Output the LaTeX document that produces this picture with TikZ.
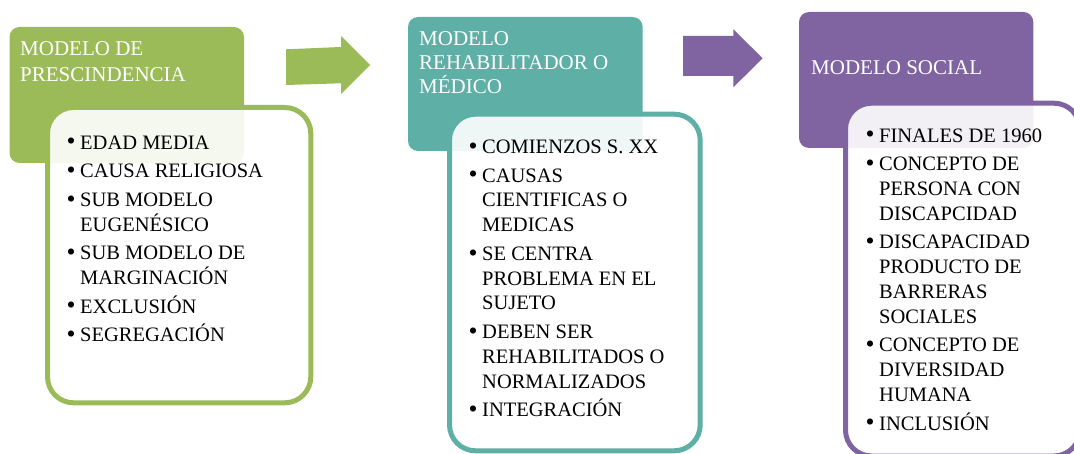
\documentclass[tikz,border=0pt]{standalone}
\usepackage{fontspec}
\usepackage{graphicx}
\setmainfont{Liberation Serif}
\definecolor{cgreen}{HTML}{9BBB59}
\definecolor{cteal}{HTML}{5EAFA6}
\definecolor{cpurple}{HTML}{8064A2}
\newcommand{\bul}{\makebox[12pt][l]{\hspace*{-1.5pt}\raisebox{-0.8pt}{\scalebox{1.25}{\textbullet}}}}
\newcommand{\cont}{\hspace*{12pt}}
\tikzset{
  head/.style={rounded corners=10pt, draw=none},
  bodybox/.style={rounded corners=26pt, line width=5pt, fill=white, fill opacity=0.9},
  headtext/.style={anchor=base west, inner sep=0pt, align=left, text=white,
    font=\fontsize{21}{26}\selectfont},
  bodytext/.style={anchor=base west, inner sep=0pt, align=left, text=black,
    font=\fontsize{20.5}{24.8}\selectfont},
  blockarrow/.style={draw=none}
}
\begin{document}
\begin{tikzpicture}[x=1pt,y=-1pt]
\useasboundingbox (0,0) rectangle (1074,454);
\clip (0,0) rectangle (1074,454);
% column 1
\fill[head, cgreen] (9.5,27) rectangle (244,163);
\draw[bodybox, draw=cgreen] (47.5,107.5) rectangle (310.8,402.8);
\node[headtext] (h1) at (20,82) {MODELO DE\\PRESCINDENCIA};
\node[bodytext] (b1) at (68,341.7) {\bul EDAD MEDIA\\[3.8pt]
\bul CAUSA RELIGIOSA\\[3.8pt]
\bul SUB MODELO\\
\cont EUGENÉSICO\\[3.8pt]
\bul SUB MODELO DE\\
\cont MARGINACIÓN\\[3.8pt]
\bul EXCLUSIÓN\\[3.8pt]
\bul SEGREGACIÓN};
% arrow 1
\fill[blockarrow, cgreen] (286,49.3) -- (341,47) -- (341,36) -- (370,65) -- (341,94) -- (341,83.3) -- (286,85) -- cycle;
% column 2
\fill[head, cteal] (408,17) rectangle (642.7,151);
\draw[bodybox, draw=cteal] (449.5,114.2) rectangle (700.2,450.8);
\node[headtext, font=\fontsize{21}{24}\selectfont] (h2) at (419,94) {MODELO\\REHABILITADOR O\\MÉDICO};
\node[bodytext] (b2) at (470,416.7) {\bul COMIENZOS S. XX\\[3.8pt]
\bul CAUSAS\\
\cont CIENTIFICAS O\\
\cont MEDICAS\\[3.8pt]
\bul SE CENTRA\\
\cont PROBLEMA EN EL\\
\cont SUJETO\\[3.8pt]
\bul DEBEN SER\\
\cont REHABILITADOS O\\
\cont NORMALIZADOS\\[3.8pt]
\bul INTEGRACIÓN};
% arrow 2
\fill[blockarrow, cpurple] (683,36) -- (733.3,36) -- (733.3,29.3) -- (762.7,58.3) -- (733.3,87.3) -- (733.3,76) -- (683,76) -- cycle;
% column 3
\fill[head, cpurple] (799,12) rectangle (1033.3,148);
\draw[bodybox, draw=cpurple] (845.5,103.2) rectangle (1080,456);
\node[headtext] (h3) at (811,75) {MODELO SOCIAL};
\node[bodytext] (b3) at (867,430) {\bul FINALES DE 1960\\[3.8pt]
\bul CONCEPTO DE\\
\cont PERSONA CON\\
\cont DISCAPCIDAD\\[3.8pt]
\bul DISCAPACIDAD\\
\cont PRODUCTO DE\\
\cont BARRERAS\\
\cont SOCIALES\\[3.8pt]
\bul CONCEPTO DE\\
\cont DIVERSIDAD\\
\cont HUMANA\\[3.8pt]
\bul INCLUSIÓN};
\end{tikzpicture}
\end{document}
